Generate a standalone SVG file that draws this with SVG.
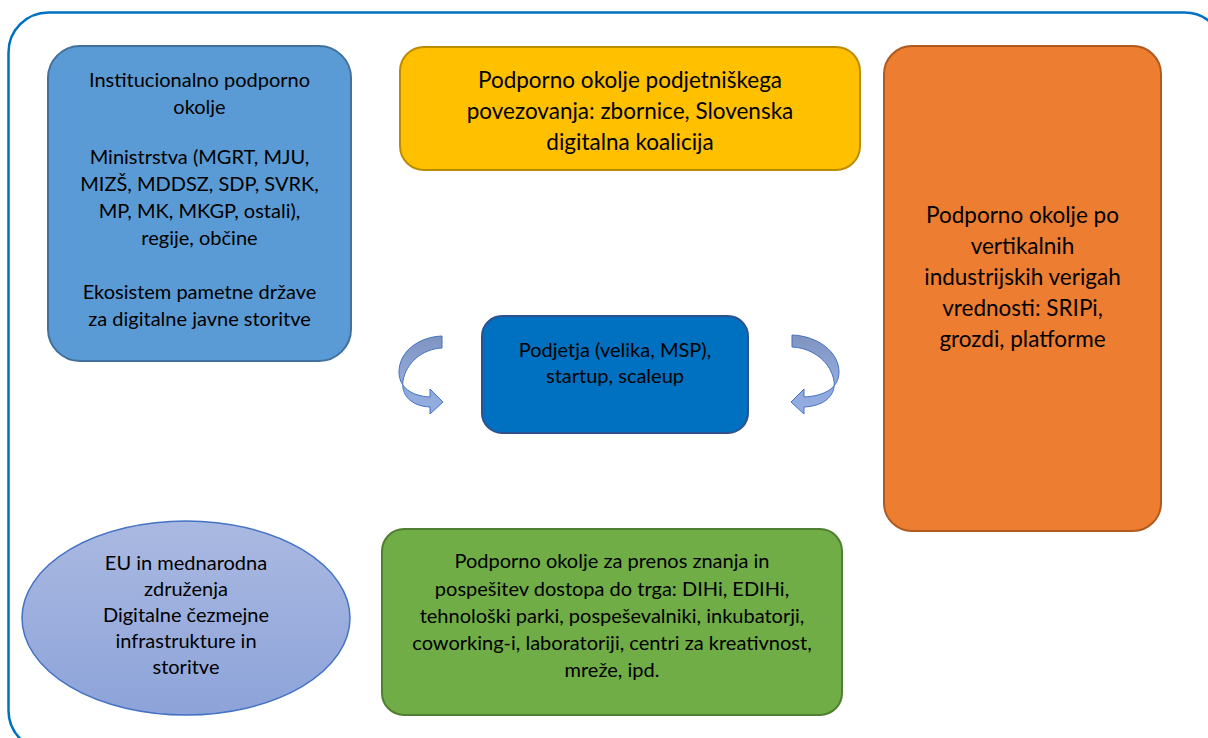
<svg xmlns="http://www.w3.org/2000/svg" width="1208" height="738" viewBox="0 0 1208 738">
<style>
text{font-family:Lato,"Liberation Sans",sans-serif;fill:#000;text-anchor:middle}
.s{font-size:20px}
.l{font-size:22.5px}
.box{stroke-width:2}
</style>
<defs>
<linearGradient id="eg" x1="0" y1="0" x2="0" y2="1">
<stop offset="0" stop-color="#AAB9E1"/>
<stop offset="1" stop-color="#8DA3D9"/>
</linearGradient>
<linearGradient id="ag" x1="0" y1="0" x2="0" y2="1">
<stop offset="0" stop-color="#7F93BF"/>
<stop offset="0.5" stop-color="#8FA7D8"/>
<stop offset="1" stop-color="#94AEE3"/>
</linearGradient>
</defs>
<rect x="8.5" y="12.5" width="1216" height="738" rx="40" fill="#fff" stroke="#0070C0" stroke-width="2.5"/>
<g id="institucionalno">
<rect class="box" x="48" y="46" width="303" height="315" rx="32" fill="#5B9BD5" stroke="#41719C"/>
<text class="s" x="199.5" y="87">Institucionalno podporno</text>
<text class="s" x="199.5" y="114">okolje</text>
<text class="s" x="199.5" y="164">Ministrstva (MGRT, MJU,</text>
<text class="s" x="199.5" y="191">MIZŠ, MDDSZ, SDP, SVRK,</text>
<text class="s" x="199.5" y="218">MP, MK, MKGP, ostali),</text>
<text class="s" x="199.5" y="245">regije, občine</text>
<text class="s" x="199.5" y="299">Ekosistem pametne države</text>
<text class="s" x="199.5" y="326">za digitalne javne storitve</text>
</g>
<g id="podjetnisko">
<rect class="box" x="400" y="47" width="460" height="123" rx="24" fill="#FFC000" stroke="#BC8C00"/>
<text class="l" x="630" y="88">Podporno okolje podjetniškega</text>
<text class="l" x="630" y="119">povezovanja: zbornice, Slovenska</text>
<text class="l" x="630" y="150">digitalna koalicija</text>
</g>
<g id="vertikalno">
<rect class="box" x="884" y="46" width="277" height="485" rx="28" fill="#ED7D31" stroke="#AE5A21"/>
<text class="l" x="1022.5" y="223">Podporno okolje po</text>
<text class="l" x="1022.5" y="254">vertikalnih</text>
<text class="l" x="1022.5" y="285">industrijskih verigah</text>
<text class="l" x="1022.5" y="316">vrednosti: SRIPi,</text>
<text class="l" x="1022.5" y="347">grozdi, platforme</text>
</g>
<g id="podjetja">
<rect class="box" x="482" y="316" width="266" height="117" rx="20" fill="#0070C0" stroke="#2F528F"/>
<text class="s" x="615" y="357">Podjetja (velika, MSP),</text>
<text class="s" x="615" y="383">startup, scaleup</text>
</g>
<g id="prenos">
<rect class="box" x="382" y="529" width="460" height="186" rx="22" fill="#70AD47" stroke="#507E32"/>
<text class="s" x="612" y="568">Podporno okolje za prenos znanja in</text>
<text class="s" x="612" y="596">pospešitev dostopa do trga: DIHi, EDIHi,</text>
<text class="s" x="612" y="623">tehnološki parki, pospeševalniki, inkubatorji,</text>
<text class="s" x="612" y="650">coworking-i, laboratoriji, centri za kreativnost,</text>
<text class="s" x="612" y="677">mreže, ipd.</text>
</g>
<g id="eu">
<ellipse cx="186" cy="618" rx="164" ry="97" fill="url(#eg)" stroke="#4472C4" stroke-width="1.5"/>
<text class="s" x="186" y="570">EU in mednarodna</text>
<text class="s" x="186" y="596">združenja</text>
<text class="s" x="186" y="622">Digitalne čezmejne</text>
<text class="s" x="186" y="648">infrastrukture in</text>
<text class="s" x="186" y="674">storitve</text>
</g>
<g id="connectors">
<path d="M442 336 C418 337 399 352 399 372 C399 387 411 396 430 397 L430 389 L443 402 L430 414 L430 407 C410 406 401 394 403 381 C406 363 422 349 442 348 Z" fill="url(#ag)" stroke="#4472C4" stroke-width="1"/>
<path d="M792 335 C818 336 839 352 839 372 C839 387 826 396 804 397 L804 389 L791 402 L804 414 L804 407 C826 406 836 394 834 381 C831 363 814 348 792 347 Z" fill="url(#ag)" stroke="#4472C4" stroke-width="1"/>
</g>
</svg>
